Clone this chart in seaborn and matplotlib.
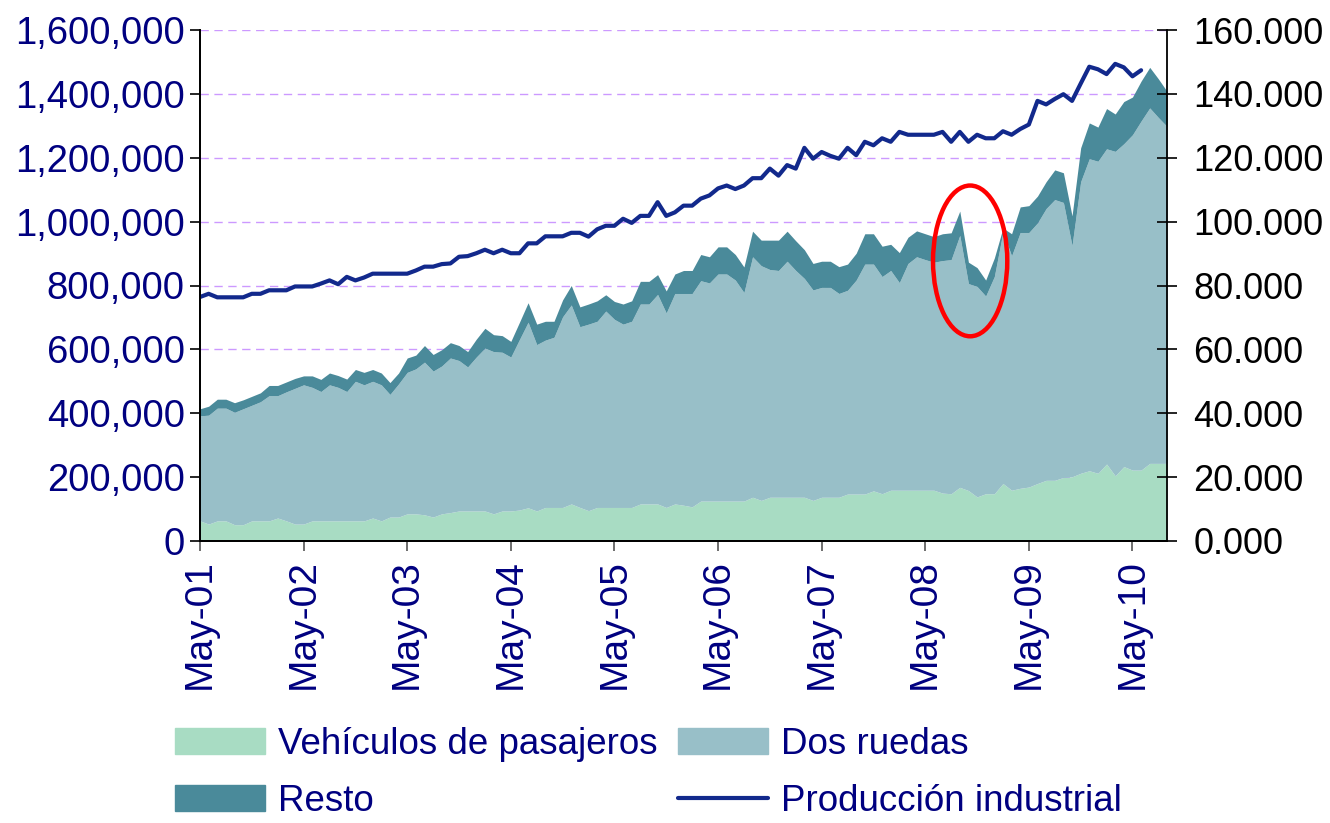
import numpy as np
import pandas as pd
import matplotlib
matplotlib.use("Agg")
import matplotlib.pyplot as plt
from matplotlib.patches import Ellipse, Patch
from matplotlib.lines import Line2D
from matplotlib.ticker import FuncFormatter, MultipleLocator
import seaborn as sns

# ============================================================
# DATOS: ventas mensuales may-2001 .. sep-2010 (miles de unidades)
# ============================================================

vehiculos = [63, 53, 63, 63, 51, 51, 63, 63, 63, 72, 63, 53,
             53, 63, 63, 63, 63, 63, 63, 63, 72, 63, 75, 75,
             85, 85, 82, 75, 85, 89, 94, 94, 94, 94, 85, 94,
             94, 97, 104, 94, 105, 105, 105, 116, 105, 95, 105, 105,
             105, 105, 105, 116, 116, 116, 105, 116, 112, 107, 125, 125,
             125, 125, 125, 125, 137, 127, 137, 137, 137, 137, 137, 127,
             137, 137, 137, 147, 147, 147, 157, 148, 159, 159, 159, 159,
             159, 159, 150, 148, 168, 158, 138, 148, 148, 180, 159, 165,
             169, 180, 190, 190, 199, 201, 212, 220, 212, 241, 204, 233,
             222, 222, 243, 243, 243]

dos_ruedas = [329, 341, 353, 353, 352, 363, 362, 373, 392, 383, 404, 425,
              436, 418, 405, 426, 418, 405, 437, 426, 428, 426, 384, 417,
              443, 454, 478, 457, 463, 484, 471, 451, 482, 510, 508, 497,
              482, 534, 581, 521, 524, 533, 597, 623, 566, 584, 583, 615,
              589, 574, 583, 626, 626, 656, 609, 659, 663, 668, 690, 683,
              711, 711, 692, 653, 753, 735, 713, 710, 739, 710, 685, 659,
              657, 657, 638, 638, 670, 720, 710, 680, 688, 650, 710, 731,
              722, 714, 728, 733, 789, 648, 659, 619, 680, 788, 734, 801,
              797, 816, 851, 879, 861, 724, 913, 977, 977, 987, 1016, 1011,
              1050, 1093, 1113, 1083, 1055]

resto = [22, 28, 28, 28, 30, 28, 28, 28, 32, 32, 31, 31,
         28, 36, 38, 37, 37, 39, 37, 39, 37, 37, 37, 34,
         45, 43, 52, 52, 51, 48, 47, 48, 56, 62, 53, 52,
         49, 54, 61, 64, 59, 50, 53, 61, 62, 63, 64, 51,
         56, 63, 64, 71, 71, 62, 69, 61, 72, 72, 82, 82,
         85, 85, 80, 80, 80, 80, 92, 95, 94, 93, 90, 83,
         82, 82, 84, 82, 84, 95, 95, 95, 82, 94, 82, 81,
         81, 80, 84, 84, 76, 67, 59, 50, 58, 12, 69, 80,
         84, 84, 84, 93, 93, 93, 106, 112, 107, 126, 117, 132,
         118, 125, 127, 121, 110]

# Índice de producción industrial (eje derecho), hasta jun-2010
produccion = [76.4, 77.4, 76.3, 76.3, 76.3, 76.3, 77.4, 77.4, 78.5, 78.5, 78.5, 79.7,
              79.7, 79.7, 80.6, 81.6, 80.4, 82.7, 81.6, 82.5, 83.7, 83.7, 83.7, 83.7,
              83.7, 84.7, 85.9, 85.9, 86.7, 86.9, 89.0, 89.2, 90.1, 91.2, 90.1, 91.2,
              90.1, 90.1, 93.2, 93.2, 95.4, 95.4, 95.4, 96.5, 96.5, 95.3, 97.6, 98.7,
              98.7, 100.9, 99.6, 101.8, 101.8, 106.1, 101.8, 102.9, 105.0, 105.0, 107.2, 108.2,
              110.4, 111.3, 110.2, 111.3, 113.6, 113.6, 116.6, 114.4, 117.7, 116.6, 123.1, 119.7,
              121.8, 120.6, 119.7, 123.1, 120.8, 125.0, 123.9, 126.1, 125.0, 128.1, 127.2, 127.2,
              127.2, 127.2, 128.1, 125.0, 128.1, 125.0, 127.2, 126.1, 126.1, 128.3, 127.2, 129.0,
              130.4, 137.8, 136.7, 138.4, 139.9, 137.8, 143.2, 148.5, 147.7, 146.2, 149.4, 148.3,
              145.5, 147.4]

meses = pd.date_range("2001-05-01", periods=len(vehiculos), freq="MS")

# ============================================================
# ESTILO
# ============================================================

sns.set_theme(style="white")
plt.rcParams["font.family"] = ["Liberation Sans", "DejaVu Sans"]

C_VEH = "#a8dcc3"
C_DOS = "#98bfc8"
C_RES = "#4a8a9a"
C_LIN = "#12298c"
NAVY = "#000080"

df = pd.DataFrame({
    "mes": np.arange(len(meses)),
    "Vehículos de pasajeros": np.array(vehiculos) * 1000,
    "Dos ruedas": np.array(dos_ruedas) * 1000,
    "Resto": np.array(resto) * 1000,
    "Producción industrial": produccion + [np.nan] * (len(meses) - len(produccion)),
})

fig = plt.figure(figsize=(13.3, 8.23), dpi=100)
ax = fig.add_axes([200 / 1330, 1 - 541 / 823, 967 / 1330, 511 / 823])

ax.stackplot(df["mes"], df["Vehículos de pasajeros"], df["Dos ruedas"], df["Resto"],
             colors=[C_VEH, C_DOS, C_RES], linewidth=0, zorder=2)

ax.set_xlim(0, len(meses) - 1)
ax.set_ylim(0, 1600000)
ax.yaxis.set_major_locator(MultipleLocator(200000))
ax.yaxis.set_major_formatter(FuncFormatter(lambda v, p: f"{v:,.0f}"))

mayos = df["mes"][meses.month == 5]
ax.set_xticks(mayos)
ax.set_xticklabels([d.strftime("%b-%y") for d in meses[meses.month == 5]], rotation=90)

ax.grid(axis="y", color="#cc99ff", linestyle=(0, (6, 4)), linewidth=1)
ax.grid(axis="x", visible=False)
ax.set_axisbelow(True)

ax.tick_params(axis="y", left=True, direction="out", length=7, width=1.2,
               color="black", labelsize=27.5, labelcolor=NAVY, pad=4)
ax.tick_params(axis="x", bottom=True, direction="out", length=7, width=1.2,
               color="#555555", labelsize=28, labelcolor=NAVY, pad=6)

# marca de la caída de 2008
ax.add_patch(Ellipse((89.2, 877000), width=8.6, height=472000, fill=False,
                     edgecolor="red", linewidth=3.2, zorder=5))

# eje derecho: producción industrial
ax2 = ax.twinx()
sns.lineplot(data=df, x="mes", y="Producción industrial", ax=ax2,
             color=C_LIN, linewidth=3)
ax2.set_ylim(0, 160)
ax2.yaxis.set_major_locator(MultipleLocator(20))
ax2.yaxis.set_major_formatter(FuncFormatter(lambda v, p: f"{v:.3f}"))
ax2.tick_params(axis="y", right=True, direction="inout", length=14, width=1.2,
                color="black", labelsize=26, labelcolor="black", pad=12)
ax2.grid(False)
ax.set_xlabel("")
ax.set_ylabel("")
ax2.set_xlabel("")
ax2.set_ylabel("")

for a in (ax, ax2):
    a.spines["top"].set_visible(False)
    for s in ("left", "right", "bottom"):
        a.spines[s].set_color("black")
        a.spines[s].set_linewidth(1.3)
ax.spines["right"].set_visible(False)

handles = [Patch(color=C_VEH), Patch(color=C_RES), Patch(color=C_DOS),
           Line2D([], [], color=C_LIN, linewidth=3)]
labels = ["Vehículos de pasajeros", "Resto", "Dos ruedas", "Producción industrial"]
fig.legend(handles, labels, ncol=2, loc="upper left",
           bbox_to_anchor=(175 / 1330, 1 - 727 / 823), frameon=False,
           fontsize=26.5, labelcolor=NAVY, handlelength=2.45, handleheight=0.7,
           handletextpad=0.35, columnspacing=0.55, labelspacing=0.6,
           borderpad=0, borderaxespad=0)

fig.savefig("out.png", dpi=100)
